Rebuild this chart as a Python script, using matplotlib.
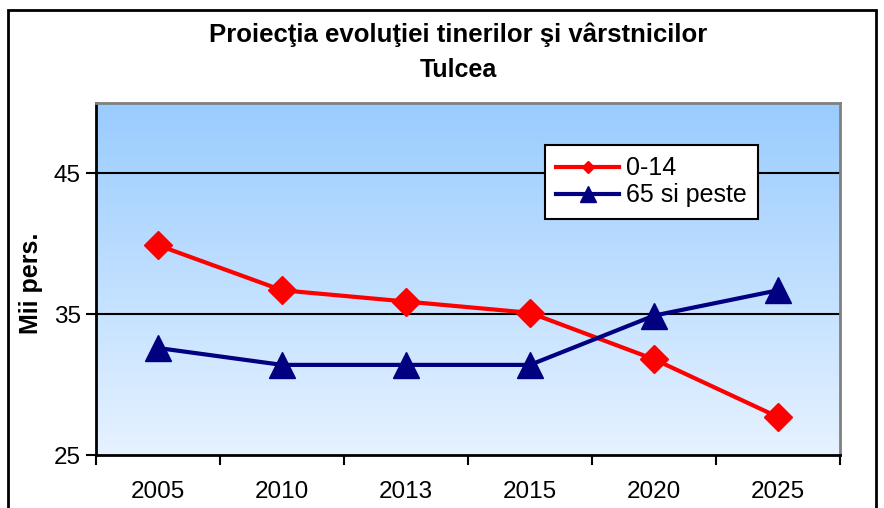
import matplotlib
matplotlib.use("Agg")
import matplotlib.pyplot as plt
import numpy as np
from matplotlib.lines import Line2D
from matplotlib.patches import Rectangle

years = ["2005", "2010", "2013", "2015", "2020", "2025"]
youth = [39.9, 36.7, 35.9, 35.1, 31.8, 27.7]
elderly = [32.6, 31.4, 31.4, 31.4, 34.9, 36.7]
series_names = ["0-14", "65 si peste"]
yticks = [25, 35, 45]

plt.rcParams['font.family'] = ['Liberation Sans', 'DejaVu Sans']

W, H = 884, 508
fig = plt.figure(figsize=(W / 100, H / 100), dpi=100)
fig.patch.set_facecolor('white')

L, R, T, B = 96, 840, 103, 455
ax = fig.add_axes([L / W, 1 - B / H, (R - L) / W, (B - T) / H])

# gradient background
grad = np.linspace(0, 1, 256).reshape(-1, 1)
top = np.array([153, 204, 255]) / 255
bot = np.array([230, 242, 255]) / 255
img = top[None, None, :] * (1 - grad[:, :, None]) + bot[None, None, :] * grad[:, :, None]
ax.imshow(img, extent=[0, 1, 0, 1], transform=ax.transAxes, aspect='auto', zorder=0)

x = np.arange(len(years))
ax.set_xlim(-0.5, len(years) - 0.5)
ax.set_ylim(25, 50)

for yv in [35, 45]:
    ax.axhline(yv, color='black', lw=1.5, zorder=1)

ax.plot(x, youth, color='#FF0000', lw=3, marker='D', ms=14, zorder=3, clip_on=False)
ax.plot(x, elderly, color='#000080', lw=3, marker='^', ms=18.5, zorder=3, clip_on=False)

ax.set_yticks(yticks)
ax.set_yticklabels([str(v) for v in yticks], fontsize=17.5)
ax.set_xticks(x)
ax.set_xticklabels(years, fontsize=17.5)
ax.set_xticks(np.arange(-0.5, len(years)), minor=True)
ax.tick_params(axis='x', which='major', length=0, pad=19)
ax.tick_params(axis='x', which='minor', length=7, width=1.5, direction='out')
ax.tick_params(axis='y', length=7, width=1.5, direction='out', pad=4)

for s in ['left', 'bottom']:
    ax.spines[s].set_color('black')
    ax.spines[s].set_linewidth(2)
for s in ['top', 'right']:
    ax.spines[s].set_color('#808080')
    ax.spines[s].set_linewidth(2)

handles = [
    Line2D([], [], color='#FF0000', lw=3, marker='D', ms=6),
    Line2D([], [], color='#000080', lw=3, marker='^', ms=12),
]
leg = ax.legend(handles, series_names, loc='upper left',
                bbox_to_anchor=((545 - L) / (R - L), 1 - (145 - T) / (B - T)),
                fontsize=18, frameon=True, fancybox=False, framealpha=1,
                edgecolor='black', handlelength=2.5, handletextpad=0.28,
                borderpad=0.45, labelspacing=0.12, borderaxespad=0)
leg.get_frame().set_linewidth(1.5)
leg.set_zorder(5)

fig.text(458 / W, 1 - 35 / H, "Proiecţia evoluţiei tinerilor şi vârstnicilor",
         ha='center', va='center', fontsize=18.5, fontweight='bold')
fig.text(458 / W, 1 - 70 / H, "Tulcea", ha='center', va='center',
         fontsize=18, fontweight='bold')
fig.text(31 / W, 1 - 283 / H, "Mii pers.", ha='center', va='center',
         rotation=90, fontsize=18, fontweight='bold')

fig.patches.append(Rectangle((8 / W, -0.1), (876 - 8) / W, 1.1 - 10 / H,
                             transform=fig.transFigure, fill=False,
                             edgecolor='black', lw=2, clip_on=False))

fig.savefig("out.png", dpi=100)
